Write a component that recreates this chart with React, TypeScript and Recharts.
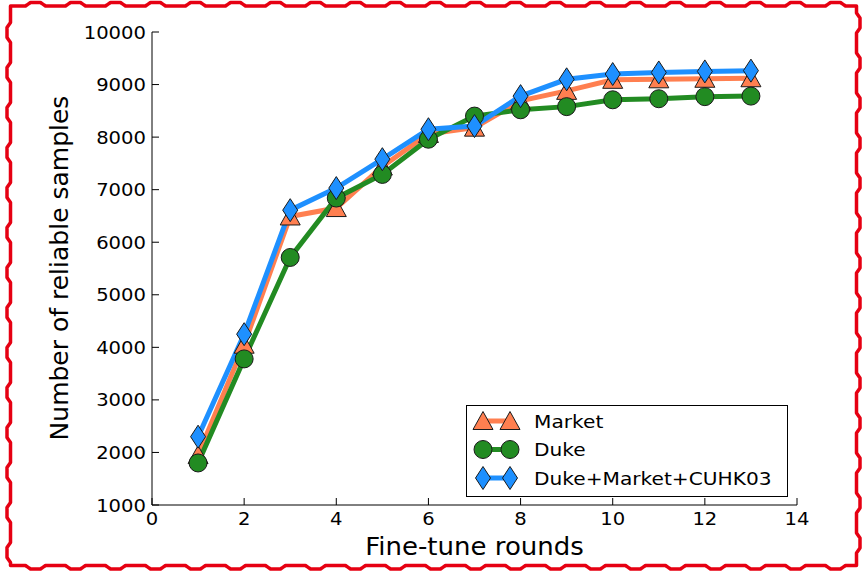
import React from 'react';
import { LineChart, Line, XAxis, YAxis, Legend } from 'recharts';

const rounds = [1, 2, 3, 4, 5, 6, 7, 8, 9, 10, 11, 12, 13];
const market = [1950, 4050, 6490, 6650, 7440, 8060, 8180, 8690, 8880, 9090, 9100, 9110, 9120];
const duke = [1800, 3780, 5710, 6840, 7290, 7960, 8400, 8520, 8580, 8710, 8730, 8770, 8780];
const combined = [2300, 4250, 6610, 7030, 7580, 8150, 8210, 8780, 9100, 9200, 9230, 9250, 9265];
const xTicks = [0, 2, 4, 6, 8, 10, 12, 14];
const yTicks = [1000, 2000, 3000, 4000, 5000, 6000, 7000, 8000, 9000, 10000];
const seriesNames = ['Market', 'Duke', 'Duke+Market+CUHK03'];
const seriesKeys = ['market', 'duke', 'combined'];
const seriesColors = ['#FF7F50', '#228B22', '#1E90FF'];
const seriesMarkers = ['triangle', 'circle', 'diamond'];

const data = rounds.map((r, i) => ({ round: r, market: market[i], duke: duke[i], combined: combined[i] }));

const FONT = '"DejaVu Sans", Verdana, sans-serif';
const EDGE = '#1a1a1a';

const Marker = ({ kind, cx, cy, color }: any) => {
  if (kind === 'triangle') {
    return <polygon points={`${cx},${cy - 9.5} ${cx - 10},${cy + 8.5} ${cx + 10},${cy + 8.5}`} fill={color} stroke={EDGE} strokeWidth={1} />;
  }
  if (kind === 'circle') {
    return <circle cx={cx} cy={cy} r={9} fill={color} stroke={EDGE} strokeWidth={1} />;
  }
  return <polygon points={`${cx},${cy - 11.5} ${cx + 7.5},${cy} ${cx},${cy + 11.5} ${cx - 7.5},${cy}`} fill={color} stroke={EDGE} strokeWidth={1} />;
};

const makeDot = (kind: string, color: string) => (props: any) => {
  const { cx, cy, index } = props;
  if (cx == null || cy == null) return <g key={`e-${index}`} />;
  return <Marker key={`${kind}-${index}`} kind={kind} cx={cx} cy={cy} color={color} />;
};

const BottomTick = (props: any) => {
  const { x, y, payload } = props;
  return (
    <g>
      <line x1={x} y1={y} x2={x} y2={y - 7} stroke="#000" strokeWidth={1} />
      <text x={0} y={0} transform={`translate(${x},${y + 20}) scale(1.12,1)`} textAnchor="middle" fontSize={17.5} fontFamily={FONT} fill="#000">
        {payload.value}
      </text>
    </g>
  );
};

const LeftTick = (props: any) => {
  const { x, y, payload } = props;
  return (
    <g>
      <line x1={x} y1={y} x2={x + 7} y2={y} stroke="#000" strokeWidth={1} />
      <text x={0} y={0} transform={`translate(${x - 6},${y + 6.5}) scale(1.12,1)`} textAnchor="end" fontSize={17.5} fontFamily={FONT} fill="#000">
        {payload.value}
      </text>
    </g>
  );
};

const TopTick = (props: any) => {
  const { x, y } = props;
  return <line x1={x} y1={y} x2={x} y2={y + 7} stroke="#000" strokeWidth={1} />;
};

const RightTick = (props: any) => {
  const { x, y } = props;
  return <line x1={x} y1={y} x2={x - 7} y2={y} stroke="#000" strokeWidth={1} />;
};

const LegendBox = () => (
  <svg width={322} height={93} style={{ display: 'block' }}>
    <rect x={0.5} y={0.5} width={321} height={91} fill="#fff" stroke="#000" strokeWidth={1} />
    {seriesNames.map((name, i) => {
      const cy = 16 + i * 28.5;
      return (
        <g key={name}>
          <line x1={17} y1={cy} x2={44} y2={cy} stroke={seriesColors[i]} strokeWidth={5} />
          <Marker kind={seriesMarkers[i]} cx={17} cy={cy} color={seriesColors[i]} />
          <Marker kind={seriesMarkers[i]} cx={44} cy={cy} color={seriesColors[i]} />
          <text x={0} y={0} transform={`translate(68,${cy + 6.5}) scale(1.12,1)`} fontSize={18} fontFamily={FONT} fill="#000">
            {name}
          </text>
        </g>
      );
    })}
  </svg>
);

// trapezoidal "stamp" edge: flat baseline with outward bumps
const bump = (s: number, period: number) => {
  const p = ((s % period) + period) % period;
  if (p < 15) return 0;
  if (p < 20) return (p - 15) / 5;
  if (p < 30) return 1;
  if (p < 35) return 1 - (p - 30) / 5;
  return 0;
};

const stampPath = (x0: number, y0: number, x1: number, y1: number, amp: number, period: number) => {
  const pts: string[] = [];
  const step = 1;
  const w = (s: number) => amp * bump(s, period);
  for (let x = x0; x <= x1; x += step) pts.push(`${x},${y0 - w(x - x0)}`);
  for (let y = y0; y <= y1; y += step) pts.push(`${x1 + w(y - y0 + 8)},${y}`);
  for (let x = x1; x >= x0; x -= step) pts.push(`${x},${y1 + w(x1 - x + 4)}`);
  for (let y = y1; y >= y0; y -= step) pts.push(`${x0 - w(y1 - y + 12)},${y}`);
  return 'M' + pts.join(' L') + ' Z';
};

export default function App() {
  return (
    <div style={{ position: 'absolute', left: 0, top: 0, width: 862, height: 573, background: '#fff' }}>
      <LineChart width={862} height={573} data={data} margin={{ top: 32, right: 65, bottom: 0, left: 0 }}>
        <XAxis
          xAxisId="bottom"
          dataKey="round"
          type="number"
          domain={[0, 14]}
          ticks={xTicks}
          interval={0}
          height={68}
          tickSize={0}
          tickMargin={0}
          tickLine={false}
          axisLine={{ stroke: '#000', strokeWidth: 1 }}
          tick={<BottomTick />}
          label={{
            content: (p: any) => {
              const vb = p.viewBox || {};
              return (
                <text x={0} y={0} transform={`translate(${vb.x + vb.width / 2},555) scale(1.04,1)`} textAnchor="middle" fontSize={25} fontFamily={FONT} fill="#000">
                  Fine-tune rounds
                </text>
              );
            },
          }}
        />
        <XAxis
          xAxisId="top"
          dataKey="round"
          type="number"
          orientation="top"
          domain={[0, 14]}
          ticks={xTicks}
          interval={0}
          height={0}
          tickSize={0}
          tickMargin={0}
          tickLine={false}
          axisLine={{ stroke: '#000', strokeWidth: 1 }}
          tick={<TopTick />}
        />
        <YAxis
          yAxisId="left"
          type="number"
          domain={[1000, 10000]}
          ticks={yTicks}
          interval={0}
          width={152}
          tickSize={0}
          tickMargin={0}
          tickLine={false}
          axisLine={{ stroke: '#000', strokeWidth: 1 }}
          tick={<LeftTick />}
          label={{
            content: () => (
              <text x={0} y={0} transform="translate(68,268) rotate(-90)" textAnchor="middle" fontSize={25} fontFamily={FONT} fill="#000">
                Number of reliable samples
              </text>
            ),
          }}
        />
        <YAxis
          yAxisId="right"
          orientation="right"
          type="number"
          domain={[1000, 10000]}
          ticks={yTicks}
          interval={0}
          width={0}
          tickSize={0}
          tickMargin={0}
          tickLine={false}
          axisLine={{ stroke: '#000', strokeWidth: 1 }}
          tick={<RightTick />}
        />
        {seriesKeys.map((k, i) => (
          <Line
            key={k}
            xAxisId="bottom"
            yAxisId="left"
            type="linear"
            dataKey={k}
            name={seriesNames[i]}
            stroke={seriesColors[i]}
            strokeWidth={5}
            dot={makeDot(seriesMarkers[i], seriesColors[i])}
            activeDot={false}
            isAnimationActive={false}
          />
        ))}
        <Legend
          layout="horizontal"
          verticalAlign="middle"
          align="center"
          content={<LegendBox />}
          wrapperStyle={{ left: 466, top: 405, width: 322, height: 93 }}
        />
      </LineChart>
      <svg width={862} height={573} style={{ position: 'absolute', left: 0, top: 0, pointerEvents: 'none' }}>
        <path d={stampPath(10.5, 6, 856.5, 565.5, 3.5, 40)} fill="none" stroke="#e60012" strokeWidth={3.5} strokeLinejoin="round" />
      </svg>
    </div>
  );
}
